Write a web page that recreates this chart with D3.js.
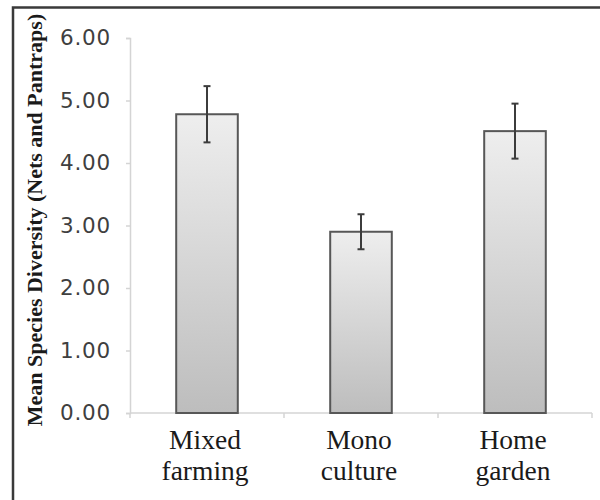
<!DOCTYPE html>
<html>
<head>
<meta charset="utf-8">
<script src="https://cdn.jsdelivr.net/npm/d3@7"></script>
<style>
  html, body { margin: 0; padding: 0; background: #fff; }
  svg { display: block; }
</style>
</head>
<body>
<script>
// Mean species diversity per farming system, with error bars
const categories = ["Mixed farming", "Mono culture", "Home garden"];
const labelLines = [["Mixed", "farming"], ["Mono", "culture"], ["Home", "garden"]];
const means = [4.78, 2.90, 4.51];
const errors = [0.45, 0.28, 0.44];
const yTicks = [0, 1, 2, 3, 4, 5, 6];
const yTitle = "Mean Species Diversity (Nets and Pantraps)";

const SERIF = "'Liberation Serif', 'Times New Roman', Times, serif";
const SANS = "'DejaVu Sans', Verdana, sans-serif";

const W = 600, H = 500;
const svg = d3.select("body").append("svg").attr("width", W).attr("height", H);

// frame: top and left edges
svg.append("path")
  .attr("d", `M13,500 V7.5 H600`)
  .attr("fill", "none").attr("stroke", "#3a3a3a").attr("stroke-width", 2.5);

const plot = { left: 130, right: 592, top: 38, bottom: 413 };

const y = d3.scaleLinear().domain([0, 6]).range([plot.bottom, plot.top]);
const x = d3.scaleBand().domain(categories)
  .range([plot.left, plot.right])
  .paddingInner(0.6).paddingOuter(0.3);

// bar gradient
const defs = svg.append("defs");
const grad = defs.append("linearGradient").attr("id", "barFill")
  .attr("x1", 0).attr("y1", 0).attr("x2", 0).attr("y2", 1);
grad.append("stop").attr("offset", "0%").attr("stop-color", "#eeeeee");
grad.append("stop").attr("offset", "100%").attr("stop-color", "#bdbdbd");

// y axis
const yAxis = svg.append("g")
  .attr("transform", `translate(${plot.left},0)`)
  .call(d3.axisLeft(y).tickValues(yTicks).tickFormat(d3.format(".2f"))
    .tickSize(4).tickSizeOuter(4).tickPadding(15));
yAxis.select(".domain").attr("stroke", "#d4d4d4").attr("stroke-width", 1.5);
yAxis.selectAll(".tick line").attr("stroke", "#d4d4d4").attr("stroke-width", 1.5);
yAxis.selectAll(".tick text")
  .style("font-family", SANS)
  .style("font-size", "21.5px")
  .style("letter-spacing", "0.8px")
  .attr("fill", "#3f3f3f");

// x axis baseline with ticks at category boundaries
const step = x.step();
const bounds = d3.range(categories.length + 1).map(i => plot.left + i * step);
svg.append("line")
  .attr("x1", plot.left).attr("x2", bounds[bounds.length - 1])
  .attr("y1", y(0)).attr("y2", y(0))
  .attr("stroke", "#d4d4d4").attr("stroke-width", 1.5);
svg.selectAll(".xtick").data(bounds).join("line")
  .attr("class", "xtick")
  .attr("x1", d => d).attr("x2", d => d)
  .attr("y1", y(0)).attr("y2", y(0) + 5)
  .attr("stroke", "#d4d4d4").attr("stroke-width", 1.5);

// bars
svg.selectAll(".bar").data(categories).join("rect")
  .attr("class", "bar")
  .attr("x", d => x(d))
  .attr("width", x.bandwidth())
  .attr("y", (d, i) => y(means[i]))
  .attr("height", (d, i) => y(0) - y(means[i]))
  .attr("fill", "url(#barFill)")
  .attr("stroke", "#575757").attr("stroke-width", 2);

// error bars
const eb = svg.selectAll(".err").data(categories).join("g").attr("class", "err")
  .attr("stroke", "#3c3c3c").attr("stroke-width", 2);
eb.append("line")
  .attr("x1", d => x(d) + x.bandwidth() / 2).attr("x2", d => x(d) + x.bandwidth() / 2)
  .attr("y1", (d, i) => y(means[i] + errors[i])).attr("y2", (d, i) => y(means[i] - errors[i]));
[1, -1].forEach(s => {
  eb.append("line")
    .attr("x1", d => x(d) + x.bandwidth() / 2 - 3.5).attr("x2", d => x(d) + x.bandwidth() / 2 + 3.5)
    .attr("y1", (d, i) => y(means[i] + s * errors[i])).attr("y2", (d, i) => y(means[i] + s * errors[i]));
});

// category labels (two lines each)
const lab = svg.selectAll(".xlab").data(categories).join("text")
  .attr("class", "xlab")
  .attr("text-anchor", "middle")
  .style("font-family", SERIF)
  .style("font-size", "27.5px").attr("fill", "#1a1a1a");
lab.each(function (d, i) {
  const cx = x(d) + x.bandwidth() / 2 - 2;
  d3.select(this).selectAll("tspan").data(labelLines[i]).join("tspan")
    .attr("x", cx)
    .attr("y", (t, j) => 449 + j * 31)
    .text(t => t);
});

// y axis title
svg.append("text")
  .attr("transform", `translate(42,${(15 + 425) / 2}) rotate(-90)`)
  .attr("text-anchor", "middle")
  .style("font-family", SERIF)
  .style("font-weight", "bold")
  .style("font-size", "22px").attr("fill", "#1a1a1a")
  .text(yTitle);
</script>
</body>
</html>
